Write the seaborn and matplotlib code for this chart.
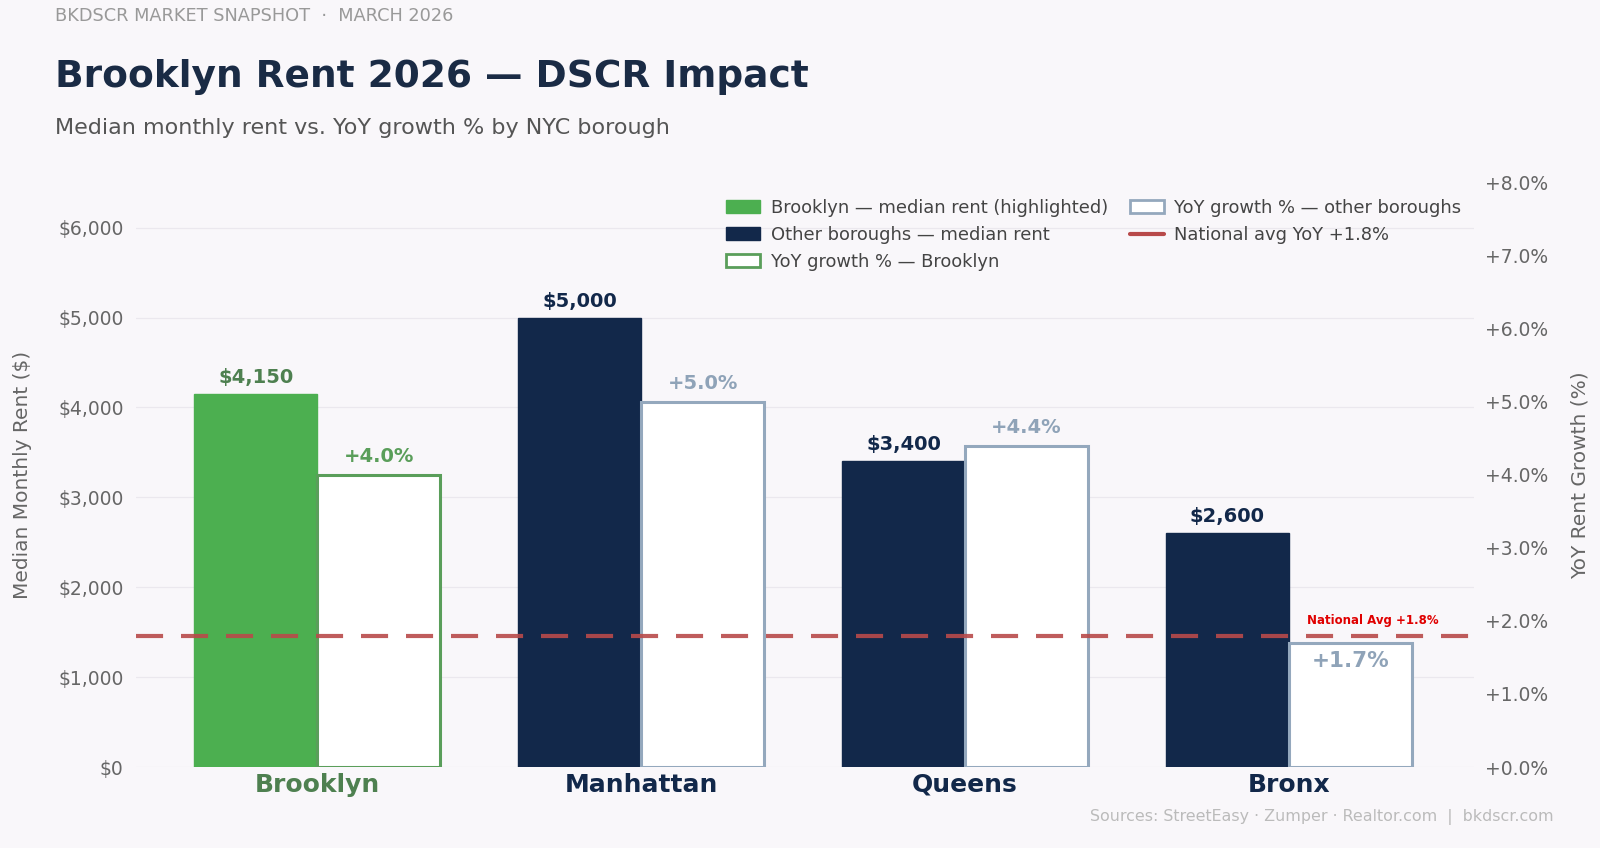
import numpy as np
import pandas as pd
import matplotlib
matplotlib.use("Agg")
import matplotlib.pyplot as plt
import seaborn as sns
from matplotlib.patches import Patch
from matplotlib.lines import Line2D
from matplotlib.ticker import FuncFormatter, MultipleLocator
import matplotlib.transforms as mtransforms

# ---- data ----
boroughs = ["Brooklyn", "Manhattan", "Queens", "Bronx"]
median_rent = [4150, 5000, 3400, 2600]
yoy_growth = [4.0, 5.0, 4.4, 1.7]
national_avg = 1.8
highlight = "Brooklyn"

header = "BKDSCR MARKET SNAPSHOT  \u00b7  MARCH 2026"
title = "Brooklyn Rent 2026 \u2014 DSCR Impact"
subtitle = "Median monthly rent vs. YoY growth % by NYC borough"
source = "Sources: StreetEasy \u00b7 Zumper \u00b7 Realtor.com  |  bkdscr.com"
legend_labels = [
    "Brooklyn \u2014 median rent (highlighted)",
    "Other boroughs \u2014 median rent",
    "YoY growth % \u2014 Brooklyn",
    "YoY growth % \u2014 other boroughs",
    "National avg YoY +1.8%",
]

# ---- styles ----
BG = "#f9f7fa"
GREEN = "#4caf50"
GREEN_EDGE = "#5a9e5a"
GREEN_TXT = "#4e8050"
NAVY = "#12284a"
GREY_EDGE = "#94a8bd"
GREY_TXT = "#8fa3b8"
RED = "#b84a4a"

sns.set_theme(style="white")
plt.rcParams["font.family"] = ["DejaVu Sans"]

df = pd.DataFrame({
    "borough": boroughs * 2,
    "metric": ["rent"] * 4 + ["growth"] * 4,
    "rent": median_rent + [np.nan] * 4,
    "growth": [np.nan] * 4 + yoy_growth,
})

fig = plt.figure(figsize=(16, 8.48), dpi=100, facecolor=BG)
ax1 = fig.add_axes([0.085, 0.0955, 0.836, 0.689])
ax1.set_facecolor(BG)
ax2 = ax1.twinx()

sns.barplot(data=df, x="borough", y="rent", hue="metric", hue_order=["rent", "growth"],
            order=boroughs, dodge=True, width=0.76, palette=[NAVY, "white"],
            errorbar=None, legend=False, ax=ax1, zorder=2)
sns.barplot(data=df, x="borough", y="growth", hue="metric", hue_order=["rent", "growth"],
            order=boroughs, dodge=True, width=0.76, palette=[NAVY, "white"],
            errorbar=None, legend=False, ax=ax2, zorder=2)

ax1.set_ylim(0, 6500)
ax2.set_ylim(0, 8)
ax1.set_xlim(-0.56, 3.57)

# rent bars
for p in ax1.patches:
    h = p.get_height()
    if not np.isfinite(h) or h == 0:
        continue
    idx = int(round(p.get_x() + p.get_width()))
    b = boroughs[idx]
    is_hl = b == highlight
    p.set_facecolor(GREEN if is_hl else NAVY)
    p.set_edgecolor(GREEN if is_hl else NAVY)
    ax1.annotate(f"${h:,.0f}", (p.get_x() + p.get_width() / 2, h),
                 xytext=(0, 5), textcoords="offset points", ha="center", va="bottom",
                 fontsize=14, fontweight="bold", color=GREEN_TXT if is_hl else NAVY)

# growth bars
for p in ax2.patches:
    h = p.get_height()
    if not np.isfinite(h) or h == 0:
        continue
    idx = int(round(p.get_x()))
    b = boroughs[idx]
    is_hl = b == highlight
    p.set_facecolor("white")
    p.set_edgecolor(GREEN_EDGE if is_hl else GREY_EDGE)
    p.set_linewidth(2.2)
    col = GREEN_EDGE if is_hl else GREY_TXT
    if h < national_avg:
        ax2.annotate(f"+{h:.1f}%", (p.get_x() + p.get_width() / 2, h),
                     xytext=(0, -6), textcoords="offset points", ha="center", va="top",
                     fontsize=15.5, fontweight="bold", color=col)
    else:
        ax2.annotate(f"+{h:.1f}%", (p.get_x() + p.get_width() / 2, h),
                     xytext=(0, 6.5), textcoords="offset points", ha="center", va="bottom",
                     fontsize=14, fontweight="bold", color=col)

# national average line
ax2.axhline(national_avg, color=RED, lw=3, dashes=(6.5, 4.3), alpha=0.9, zorder=3)
trans = mtransforms.blended_transform_factory(ax2.transAxes, ax2.transData)
ax2.text(0.925, national_avg + 0.12, "National Avg +1.8%", transform=trans, ha="center",
         va="bottom", fontsize=8.5, fontweight="bold", color="#e00000")

# axes formatting
ax1.yaxis.set_major_locator(MultipleLocator(1000))
ax1.yaxis.set_major_formatter(FuncFormatter(lambda v, _: f"${v:,.0f}"))
ax2.yaxis.set_major_locator(MultipleLocator(1))
ax2.yaxis.set_major_formatter(FuncFormatter(lambda v, _: f"+{v:.1f}%"))
ax1.grid(axis="y", color="#ebe8ee", lw=0.9, zorder=0)
ax1.set_axisbelow(True)
ax2.grid(False)
for a in (ax1, ax2):
    for s in a.spines.values():
        s.set_visible(False)
    a.tick_params(length=0)
ax1.tick_params(axis="y", labelsize=13.5, labelcolor="#666666", pad=9)
ax2.tick_params(axis="y", labelsize=13.5, labelcolor="#666666", pad=8)
ax1.set_xlabel("")
ax1.set_ylabel("Median Monthly Rent ($)", fontsize=14.5, color="#666666", labelpad=19)
ax2.set_ylabel("YoY Rent Growth (%)", fontsize=14.5, color="#666666", labelpad=16)
ax2.set_xlabel("")
ax1.set_xticks(range(len(boroughs)))
ax1.set_xticklabels(boroughs, fontsize=18, fontweight="bold")
ax1.tick_params(axis="x", pad=4)
for lbl in ax1.get_xticklabels():
    lbl.set_color(GREEN_TXT if lbl.get_text() == highlight else NAVY)

# legend
handles = [
    Patch(facecolor=GREEN, edgecolor=GREEN),
    Patch(facecolor=NAVY, edgecolor=NAVY),
    Patch(facecolor="white", edgecolor=GREEN_EDGE, linewidth=2),
    Patch(facecolor="white", edgecolor=GREY_EDGE, linewidth=2),
    Line2D([0], [0], color=RED, lw=3),
]
leg = ax2.legend(handles, legend_labels, loc="upper right", bbox_to_anchor=(1.003, 1.0),
                 ncol=2, frameon=False, fontsize=12.9, labelcolor="#444444",
                 labelspacing=0.5, columnspacing=1.2, handlelength=1.9, handletextpad=0.6)

# titles
fig.text(0.0345, 0.981, header, fontsize=12.8, color="#999999", va="center", ha="left")
fig.text(0.0345, 0.909, title, fontsize=27, fontweight="bold", color="#1a2b45",
         va="center", ha="left")
fig.text(0.0345, 0.849, subtitle, fontsize=16, color="#555555", va="center", ha="left")
fig.text(0.971, 0.037, source, fontsize=11.4, color="#bbbbbb", va="center", ha="right")

fig.savefig("out.png", dpi=100, facecolor=BG)
